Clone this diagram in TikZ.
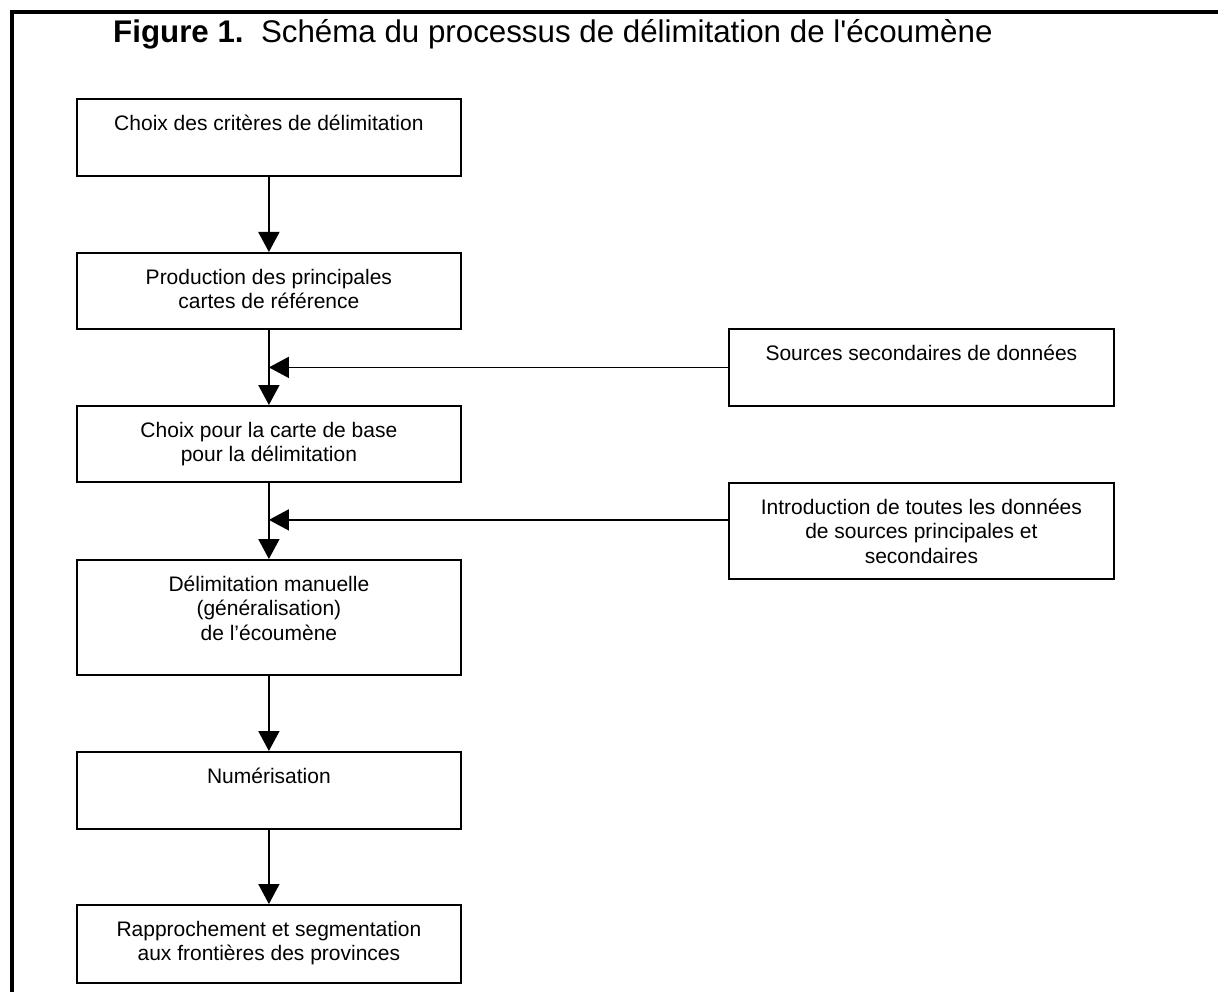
\documentclass[tikz,border=0pt]{standalone}
\usepackage{fontspec}
\setmainfont{Liberation Sans}[Ligatures=TeXOff]
\usetikzlibrary{arrows.meta}
\newcommand\bxt[3]{\parbox[t][#2][t]{#1}{\centering\vspace*{14pt}\strut #3}}
\begin{document}
\begin{tikzpicture}[x=1pt,y=1pt,
  flow/.style={draw, line width=1.8pt, inner sep=0pt, anchor=north west,
    font=\fontsize{21}{24.5}\selectfont},
  conn/.style={line width=1.8pt, -{Triangle[length=20pt,width=21pt]}},
  frame/.style={line width=3.5pt},
  titlestyle/.style={anchor=base west, inner sep=0pt, font=\fontsize{31.3}{36}\selectfont}
]
\useasboundingbox (0,0) rectangle (1218,-992);
\draw[frame] (12,-992) -- (12,-12) -- (1218,-12);
\node[titlestyle] (title) at (113,-43) {\textbf{Figure 1.}\ \ Schéma du processus de délimitation de l'écoumène};

\node[flow] (b1) at (76,-98)  {\bxt{384pt}{77pt}{Choix des critères de délimitation}};
\node[flow] (b2) at (76,-252) {\bxt{384pt}{76pt}{Production des principales\\cartes de référence}};
\node[flow] (b3) at (76,-405) {\bxt{384pt}{76pt}{Choix pour la carte de base\\pour la délimitation}};
\node[flow] (b4) at (76,-559) {\bxt{384pt}{115pt}{Délimitation manuelle\\(généralisation)\\de l’écoumène}};
\node[flow] (b5) at (76,-751) {\bxt{384pt}{77pt}{Numérisation}};
\node[flow] (b6) at (76,-904) {\bxt{384pt}{78pt}{Rapprochement et segmentation\\aux frontières des provinces}};
\node[flow] (r1) at (728,-328) {\bxt{385pt}{77pt}{Sources secondaires de données}};
\node[flow] (r2) at (728,-482) {\bxt{385pt}{96pt}{Introduction de toutes les données\\de sources principales et\\secondaires}};

\draw[conn] (b1) -- (b2);
\draw[conn] (b2) -- (b3);
\draw[conn] (b3) -- (b4);
\draw[conn] (b4) -- (b5);
\draw[conn] (b5) -- (b6);
\draw[conn] (r1.west) -- (r1.west -| b2.south);
\draw[conn] ([yshift=11pt]r2.west) -- ([yshift=11pt]r2.west -| b3.south);
\end{tikzpicture}
\end{document}
